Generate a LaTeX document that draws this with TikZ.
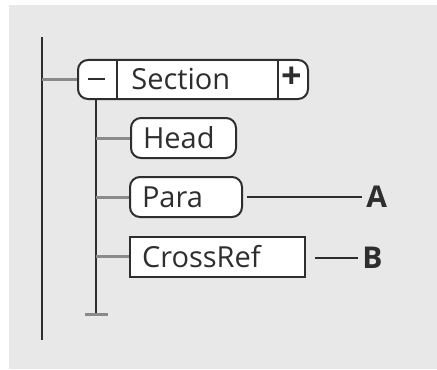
\documentclass[tikz,border=0pt]{standalone}
\usepackage{fontspec}
\setmainfont{Open Sans}
\usetikzlibrary{positioning, calc}
\definecolor{panelbg}{HTML}{E8E8E8}
\definecolor{ink}{HTML}{2E2E2E}
\definecolor{stub}{HTML}{8A8A8A}
\tikzset{
    secbox/.style={
        rectangle, rounded corners=5pt, minimum width=115pt, minimum height=19.5pt,
        draw=ink, line width=1pt, fill=white, inner sep=0pt
    },
    leaf/.style={
        rectangle, rounded corners=5pt, minimum height=20pt, inner xsep=6pt,
        align=left, draw=ink, line width=1pt, fill=white, font=\fontsize{14.5}{16}\selectfont,
        text=ink, anchor=west
    },
    reflabel/.style={
        font=\fontsize{15}{16}\selectfont\bfseries, text=ink, inner sep=2pt, anchor=west
    },
    trunk/.style={
        draw=ink, line width=1pt
    },
    stubline/.style={
        draw=stub, line width=1.5pt
    },
    leader/.style={
        draw=ink, line width=0.9pt
    }
}
\begin{document}
\begin{tikzpicture}[x=0.5pt, y=-0.5pt]

    \useasboundingbox (0,0) rectangle (437,369);
    \fill[panelbg] (9,5) rectangle (437,369);

    \coordinate (top)    at (42,37);
    \coordinate (bottom) at (42,340);
    \coordinate (subend) at (96,314);

    \node[secbox, anchor=west]               (section)  at (77,79.5) {};
    \node[text=ink, inner sep=0pt] (minus) at (96,79) {\rule{8.5pt}{1.3pt}};
    \node[text=ink, font=\fontsize{18}{18}\selectfont\bfseries, inner sep=0pt] (plus) at (291.5,78) {+};
    \node[text=ink, font=\fontsize{14.5}{16}\selectfont, inner sep=0pt, anchor=west] (title) at (131,79) {Section};

    \node[leaf, text width=40.5pt]            (head)     at (130,138)   {Head};
    \node[leaf, text width=44pt]              (para)     at (129,197)   {Para};
    \node[leaf, text width=75.5pt, rounded corners=0pt] (crossref) at (129,256.5) {CrossRef};

    \node[reflabel]                           (A)        at (362,197)   {A};
    \node[reflabel]                           (B)        at (358,258)   {B};

    \draw[trunk] ([xshift=40*0.5pt]section.north west) -- ([xshift=40*0.5pt]section.south west);
    \draw[trunk] ([xshift=-31*0.5pt]section.north east) -- ([xshift=-31*0.5pt]section.south east);

    \draw[trunk] (top) -- (bottom);
    \draw[stubline] (section.west -| top) -- (section.west);

    \draw[trunk] (minus |- section.south) -- (subend);
    \draw[stubline] ([xshift=-11*0.5pt]subend) -- ([xshift=12*0.5pt]subend);
    \draw[stubline] (head.west -| subend)     -- (head.west);
    \draw[stubline] (para.west -| subend)     -- (para.west);
    \draw[stubline] (crossref.west -| subend) -- (crossref.west);

    \draw[leader] ([xshift=4*0.5pt]para.east) -- (A.west);
    \draw[leader] ([xshift=9*0.5pt]crossref.east |- B.west) -- (B.west);

\end{tikzpicture}
\end{document}
